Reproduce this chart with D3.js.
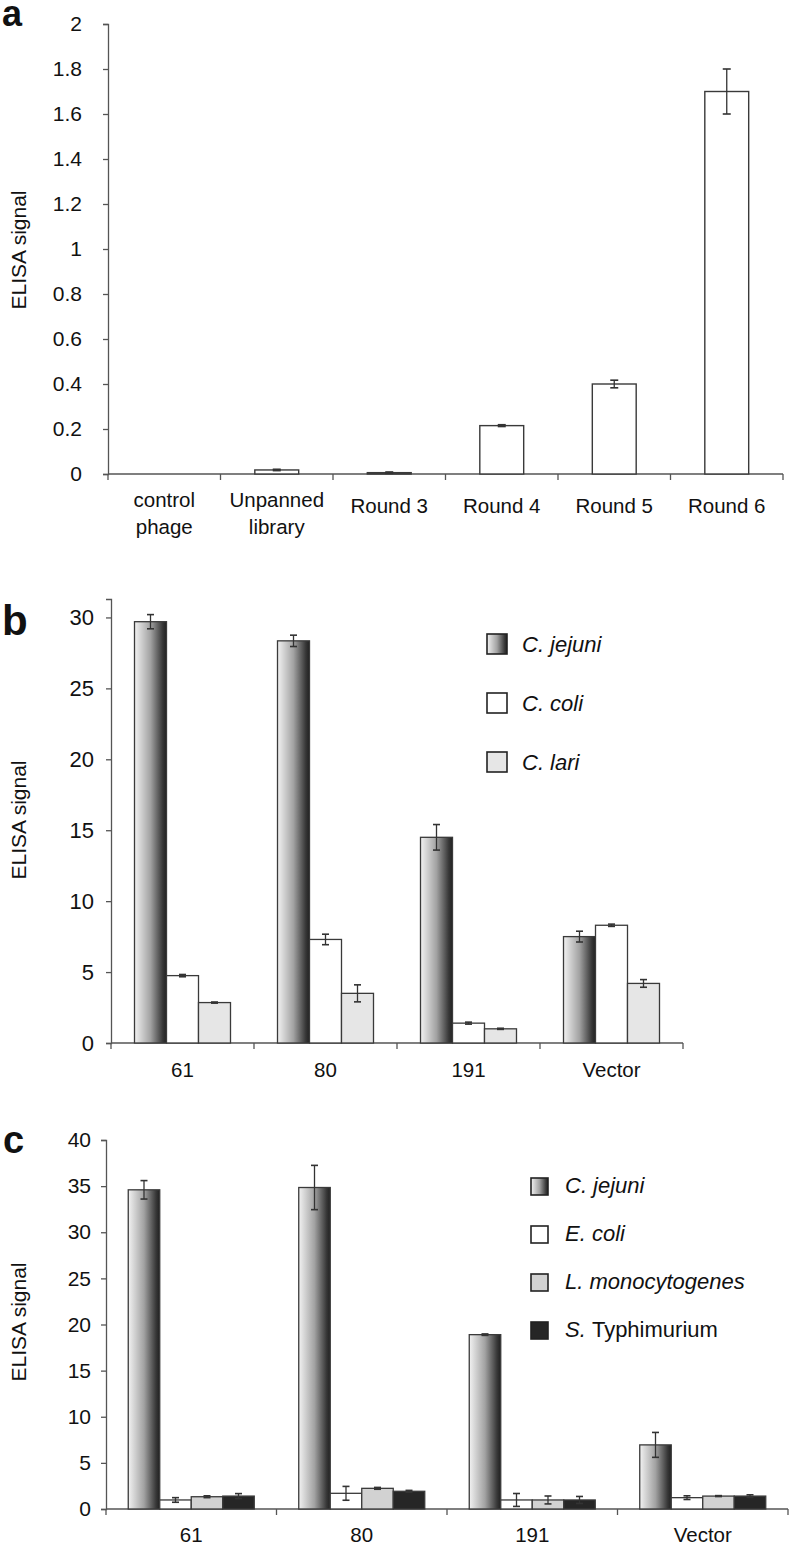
<!DOCTYPE html>
<html>
<head>
<meta charset="utf-8">
<script src="https://cdn.jsdelivr.net/npm/d3@7"></script>
<style>
  body { margin: 0; background: #fff; }
  svg { display: block; font-family: "Liberation Sans", Arial, sans-serif; }
</style>
</head>
<body>
<svg id="chart" width="789" height="1548"></svg>
<script>
// panel a
const catsA = ["control phage", "Unpanned library", "Round 3", "Round 4", "Round 5", "Round 6"];
const valsA = [0, 0.018, 0.006, 0.215, 0.40, 1.70];
const errsA = [0, 0.003, 0.003, 0.004, 0.017, 0.10];
const ticksA = [0, 0.2, 0.4, 0.6, 0.8, 1, 1.2, 1.4, 1.6, 1.8, 2];

// panel b
const catsB = ["61", "80", "191", "Vector"];
const seriesB = ["C. jejuni", "C. coli", "C. lari"];
const valsB = [[29.7, 4.75, 2.85], [28.35, 7.3, 3.5], [14.5, 1.4, 1.0], [7.5, 8.3, 4.2]];
const errsB = [[0.5, 0.08, 0.04], [0.4, 0.37, 0.6], [0.9, 0.07, 0.04], [0.38, 0.08, 0.27]];
const ticksB = [0, 5, 10, 15, 20, 25, 30];

// panel c
const catsC = ["61", "80", "191", "Vector"];
const seriesC = ["C. jejuni", "E. coli", "L. monocytogenes", "S. Typhimurium"];
const valsC = [[34.6, 0.98, 1.33, 1.4], [34.85, 1.7, 2.24, 1.92], [18.9, 0.98, 0.98, 0.98], [6.95, 1.23, 1.4, 1.4]];
const errsC = [[1.0, 0.25, 0.1, 0.27], [2.4, 0.75, 0.1, 0.1], [0.08, 0.7, 0.43, 0.38], [1.35, 0.2, 0.05, 0.14]];
const ticksC = [0, 5, 10, 15, 20, 25, 30, 35, 40];

const svg = d3.select("#chart");
const axisCol = "#555";
const barStroke = "#3a3a3a";

// gradient used for the C. jejuni bars
const defs = svg.append("defs");
const grad = defs.append("linearGradient").attr("id", "jej")
    .attr("x1", 0).attr("x2", 1).attr("y1", 0).attr("y2", 0);
grad.append("stop").attr("offset", 0).attr("stop-color", "#f2f2f2");
grad.append("stop").attr("offset", 0.5).attr("stop-color", "#a2a2a2");
grad.append("stop").attr("offset", 0.88).attr("stop-color", "#383838");
grad.append("stop").attr("offset", 1).attr("stop-color", "#202020");

const fillsB = ["url(#jej)", "#ffffff", "#e6e6e6"];
const fillsC = ["url(#jej)", "#ffffff", "#d2d2d2", "#262626"];

function yAxis(y, ticks, x0, fontSize, pad) {
    let g = svg.append("g").attr("transform", `translate(${x0},0)`)
        .call(d3.axisLeft(y).tickValues(ticks).tickSize(5).tickPadding(pad).tickFormat(d => String(d)));
    g.select(".domain").attr("stroke", axisCol).attr("stroke-width", 1.3);
    g.selectAll(".tick line").attr("stroke", axisCol).attr("stroke-width", 1.3);
    g.selectAll(".tick text").attr("font-size", fontSize).attr("fill", "#111")
        .attr("font-family", "Liberation Sans, Arial, sans-serif");
}

function xAxisLine(x, y0) {
    let r = x.range();
    svg.append("line").attr("x1", r[0]).attr("x2", r[1]).attr("y1", y0).attr("y2", y0)
        .attr("stroke", axisCol).attr("stroke-width", 1.3);
    // ticks sit on the category boundaries
    let bounds = x.domain().map((d, i) => r[0] + i * x.step()).concat([r[1]]);
    svg.selectAll(null).data(bounds).enter().append("line")
        .attr("x1", d => d).attr("x2", d => d)
        .attr("y1", y0).attr("y2", y0 + 6)
        .attr("stroke", axisCol).attr("stroke-width", 1.3);
}

function errBar(cx, yTop, yBot, cap) {
    svg.append("line").attr("x1", cx).attr("x2", cx).attr("y1", yTop).attr("y2", yBot)
        .attr("stroke", "#333").attr("stroke-width", 1.3);
    [yTop, yBot].forEach(v => {
        svg.append("line").attr("x1", cx - cap).attr("x2", cx + cap).attr("y1", v).attr("y2", v)
            .attr("stroke", "#333").attr("stroke-width", 1.6);
    });
}

function yLabel(cy) {
    svg.append("text").attr("transform", `translate(26,${cy}) rotate(-90)`)
        .attr("text-anchor", "middle").attr("font-size", 21).attr("fill", "#111")
        .text("ELISA signal");
}

function panelLetter(t, x, y, size) {
    svg.append("text").attr("x", x).attr("y", y).attr("font-size", size)
        .attr("font-weight", "bold").attr("fill", "#111").text(t);
}

// ---------- panel a ----------
{
    const y = d3.scaleLinear().domain([0, 2]).range([474, 24]);
    const x = d3.scaleBand().domain(catsA).range([108, 783]).paddingInner(0.61).paddingOuter(0.305);

    panelLetter("a", 2, 26, 36);
    yLabel(250);
    yAxis(y, ticksA, 108, 21, 21);
    xAxisLine(x, y(0));

    catsA.forEach((c, i) => {
        svg.append("rect")
            .attr("x", x(c)).attr("width", x.bandwidth())
            .attr("y", y(valsA[i])).attr("height", y(0) - y(valsA[i]))
            .attr("fill", "#fff").attr("stroke", barStroke).attr("stroke-width", 1.4);
        if (errsA[i] > 0)
            errBar(x(c) + x.bandwidth() / 2, y(valsA[i] + errsA[i]), y(valsA[i] - errsA[i]), 4);

        let words = c.split(" ");
        let lines = (c === "control phage" || c === "Unpanned library") ? words : [c];
        let t = svg.append("text").attr("text-anchor", "middle").attr("font-size", 20.5).attr("fill", "#111");
        lines.forEach((l, j) => {
            t.append("tspan").attr("x", x(c) + x.bandwidth() / 2)
                .attr("y", (lines.length > 1 ? 507 : 513) + j * 27).text(l);
        });
    });
}

// grouped panels b and c
function grouped(opts) {
    const { cats, series, vals, errs, ticks, fills, yRange, yMax, xRange, barW,
            letter, letterPos, labelY, tickFont, tickPad, catY, legend } = opts;
    const y = d3.scaleLinear().domain([0, yMax]).range(yRange);
    const x = d3.scaleBand().domain(cats).range(xRange);
    const xs = d3.scaleBand().domain(series).range([0, barW * series.length]);
    const off = (x.bandwidth() - barW * series.length) / 2;

    panelLetter(letter, letterPos[0], letterPos[1], letterPos[2]);
    yLabel(labelY);
    yAxis(y, ticks, xRange[0], tickFont, tickPad);
    xAxisLine(x, y(0));

    cats.forEach((c, i) => {
        series.forEach((s, j) => {
            let bx = x(c) + off + xs(s);
            svg.append("rect")
                .attr("x", bx).attr("width", xs.bandwidth())
                .attr("y", y(vals[i][j])).attr("height", y(0) - y(vals[i][j]))
                .attr("fill", fills[j]).attr("stroke", barStroke).attr("stroke-width", 1.3);
            errBar(bx + xs.bandwidth() / 2, y(vals[i][j] + errs[i][j]), y(vals[i][j] - errs[i][j]), 3.5);
        });
        svg.append("text").attr("x", x(c) + x.bandwidth() / 2).attr("y", catY)
            .attr("text-anchor", "middle").attr("font-size", 20.5).attr("fill", "#111").text(c);
    });

    // legend
    series.forEach((s, j) => {
        let ly = legend.y + j * legend.step;
        svg.append("rect").attr("x", legend.x).attr("y", ly)
            .attr("width", legend.box).attr("height", legend.box)
            .attr("fill", fills[j]).attr("stroke", "#222").attr("stroke-width", 1.6);
        let parts = s.split(" ");
        let t = svg.append("text").attr("x", legend.x + legend.box + legend.gap)
            .attr("y", ly + legend.box - 2).attr("font-size", 22).attr("fill", "#111");
        if (s === "S. Typhimurium") {
            t.append("tspan").attr("font-style", "italic").text(parts[0] + " ");
            t.append("tspan").text(parts[1]);
        } else {
            t.attr("font-style", "italic").text(s);
        }
    });
}

grouped({
    cats: catsB, series: seriesB, vals: valsB, errs: errsB, ticks: ticksB, fills: fillsB,
    yRange: [1043, 599], yMax: 31.3, xRange: [111, 683], barW: 32,
    letter: "b", letterPos: [2, 635, 42], labelY: 820, tickFont: 22, tickPad: 12, catY: 1077,
    legend: { x: 487, y: 634, step: 59, box: 20, gap: 15 }
});

grouped({
    cats: catsC, series: seriesC, vals: valsC, errs: errsC, ticks: ticksC, fills: fillsC,
    yRange: [1509, 1140], yMax: 40, xRange: [106, 788], barW: 31.5,
    letter: "c", letterPos: [3, 1153, 38], labelY: 1322, tickFont: 21, tickPad: 10, catY: 1542,
    legend: { x: 531, y: 1178, step: 48, box: 17, gap: 17 }
});
</script>
</body>
</html>
